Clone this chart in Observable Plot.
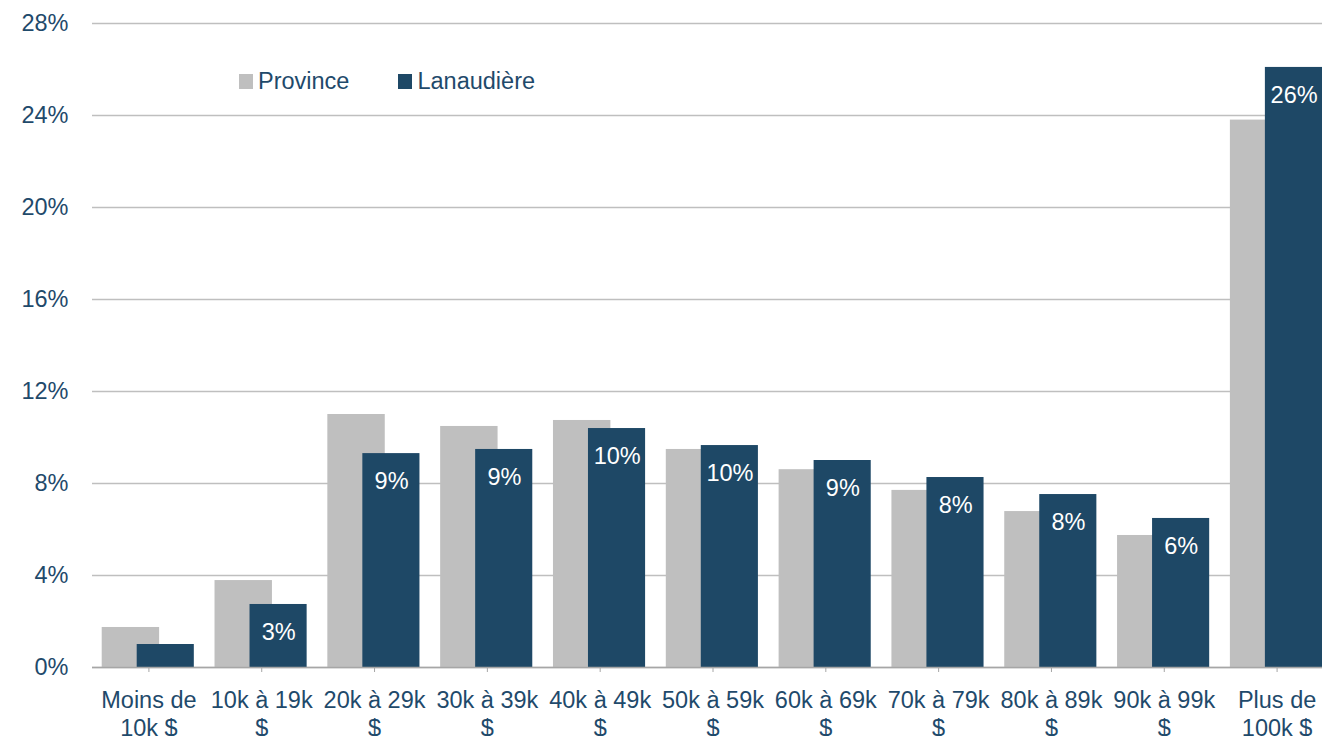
<!DOCTYPE html>
<html><head><meta charset="utf-8">
<script src="https://cdn.jsdelivr.net/npm/d3@7"></script>
<script src="https://cdn.jsdelivr.net/npm/@observablehq/plot@0.6"></script>
<style>
html,body{margin:0;padding:0;background:#fff;overflow:hidden;width:1322px;height:736px;}
#wrap{position:relative;width:1322px;height:736px;overflow:hidden;font-family:"Liberation Sans",Arial,sans-serif;}
#wrap svg{max-width:none !important;width:1333px;height:736px;display:block;}
#legend{position:absolute;left:239px;top:68px;height:26px;display:flex;align-items:center;font-size:23.5px;color:#1F4A6B;}
.sw{display:inline-block;width:14px;height:15px;margin-right:5px;}
.item{display:flex;align-items:center;}
.item + .item{margin-left:49px;}
</style></head>
<body><div id="wrap"><div id="legend"></div></div>
<script>
const categories = ["Moins de\n10k $","10k à 19k\n$","20k à 29k\n$","30k à 39k\n$","40k à 49k\n$","50k à 59k\n$","60k à 69k\n$","70k à 79k\n$","80k à 89k\n$","90k à 99k\n$","Plus de\n100k $"];
const province = [1.74, 3.78, 11.0, 10.48, 10.74, 9.48, 8.6, 7.7, 6.78, 5.74, 23.8];
const lanaudiere = [1.0, 2.74, 9.3, 9.48, 10.39, 9.65, 9.0, 8.26, 7.52, 6.48, 26.09];
const lanLabels = ["", "3%", "9%", "9%", "10%", "10%", "9%", "8%", "8%", "6%", "26%"];
const yTicks = [0,4,8,12,16,20,24,28];
const seriesNames = ["Province","Lanaudière"];
const colors = ["#BFBFBF","#1E4866"];

const provData = categories.map((c,i)=>({cat:c, v:province[i]}));
const lanData = categories.map((c,i)=>({cat:c, v:lanaudiere[i], label:lanLabels[i]}));

const textColor = "#1F4A6B";
const fs = 23.5;
const chart = Plot.plot({
  width: 1333, height: 736,
  marginLeft: 92, marginRight: 0, marginTop: 23, marginBottom: 69,
  style: {fontFamily: '"Liberation Sans", Arial, sans-serif', fontSize: fs + "px", color: textColor, background: "#fff"},
  x: {domain: categories, padding: 0, round: false, label: null},
  y: {domain: [0,28], label: null},
  marks: [
    Plot.gridY(yTicks, {stroke: "#BFBFBF", strokeOpacity: 1, strokeWidth: 1.5}),
    Plot.axisY(yTicks, {tickSize: 0, tickPadding: 24, tickFormat: d => d + "%", fill: textColor, fontSize: fs, label: null}),
    Plot.barY(provData, {x: "cat", y: "v", fill: colors[0], insetLeft: 9.7, insetRight: 45.7}),
    Plot.barY(lanData, {x: "cat", y: "v", fill: colors[1], insetLeft: 44.7, insetRight: 11}),
    Plot.ruleY([0], {stroke: "#A6A6A6", strokeWidth: 1.5}),
    Plot.axisX({tickSize: 5, tickPadding: 16, stroke: "#A6A6A6", fill: textColor, fontSize: fs, label: null, lineHeight: 1.19}),
    Plot.text(lanData, {x: "cat", y: "v", text: "label", dx: 17, dy: 28, fill: "#fff", fontSize: fs, lineAnchor: "middle"})
  ]
});
document.getElementById("wrap").prepend(chart);
const lg = document.getElementById("legend");
seriesNames.forEach((n,i)=>{
  const it = document.createElement("div"); it.className="item";
  const s = document.createElement("span"); s.className="sw"; s.style.background=colors[i];
  it.appendChild(s); it.appendChild(document.createTextNode(n)); lg.appendChild(it);
});
</script></body></html>
